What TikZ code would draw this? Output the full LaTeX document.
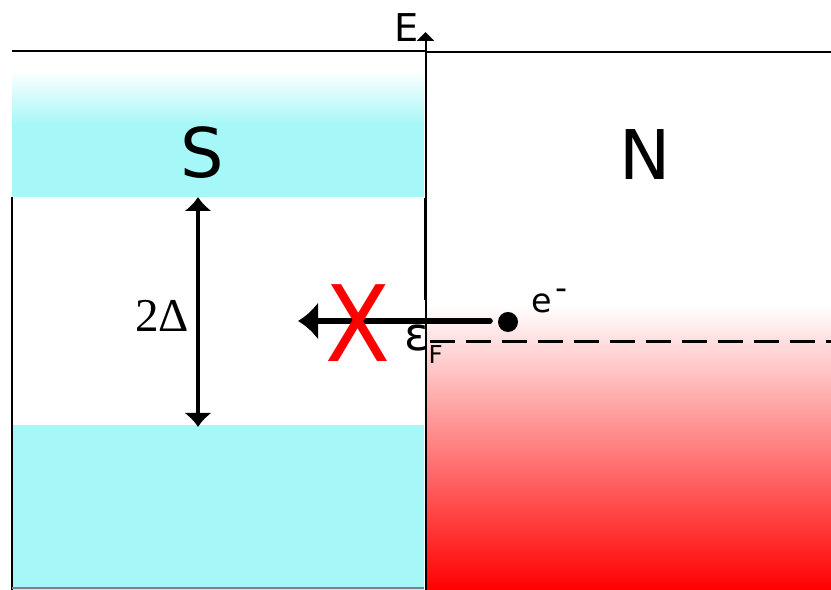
\documentclass[tikz,border=0pt]{standalone}
\usepackage{fontspec}
\setmainfont{DejaVu Sans}
\newfontfamily\timesfont{Liberation Serif}
\usetikzlibrary{arrows.meta}

\definecolor{scyan}{RGB}{166,247,247}

\begin{document}
\begin{tikzpicture}[line width=0.2mm]
\useasboundingbox (0,0) rectangle (8.31,5.9);

% superconductor bands
\fill[scyan] (0.12,0) rectangle (4.24,1.65);
\fill[scyan] (0.12,3.93) rectangle (4.24,4.65);
\shade[top color=white,bottom color=scyan] (0.12,4.65) rectangle (4.24,5.2);

% normal metal
\shade[top color=white,bottom color=red] (4.255,0) rectangle (8.31,2.85);

\draw (0.12,5.39) -- (4.255,5.39);
\draw[line width=0.8pt] (4.255,5.38) -- (8.31,5.38);
\draw (0.12,0) -- (0.12,3.93);
\draw[gray] (0.12,0.02) -- (4.24,0.02);

\coordinate (axbot) at (4.255,0);
\coordinate (axtop) at (4.255,5.58);
\draw[-{Triangle[length=0.09cm,width=0.17cm]}] (axbot) -- (axtop); %E
\draw[line width=0.9pt] (4.255,2.9) -- (4.255,3.92);

\draw[dash pattern=on 0.25cm off 0.11cm,line width=0.85pt] (4.3,2.48) -- (8.31,2.48); %fermi

\node[font=\fontsize{10.9}{13}\selectfont] (elabel) at (4.07,5.62) {E};
\node[font=\fontsize{19.5}{23}\selectfont] (slabel) at (2.02,4.37) {S};
\node[font=\fontsize{19.5}{23}\selectfont] (nlabel) at (6.45,4.35) {N};

% gap
\coordinate (gaptop) at (1.98,3.93);
\coordinate (gapbot) at (1.98,1.63);
\draw[line width=1.1pt,{Latex[length=0.14cm,width=0.28cm]}-{Latex[length=0.14cm,width=0.28cm]}] (gaptop) -- (gapbot);
\node[anchor=base west,inner sep=0pt] (gaplabel) at (1.34,2.58) {\timesfont\fontsize{13.4}{16}\selectfont 2Δ};

% electron
\node[circle,fill=black,inner sep=0pt,minimum size=0.2cm] (elec) at (5.08,2.68) {};
\node[anchor=base west,inner sep=0pt,font=\fontsize{9.5}{11}\selectfont] (eminus) at (5.30,2.77) {e\hspace{1pt}\raisebox{3.7pt}{-}};
\coordinate (blockstart) at (4.9,2.69);
\coordinate (blockend) at (2.98,2.69);
\draw[line width=1.6pt,line cap=round,-{Latex[length=0.2cm,width=0.38cm]}] (blockstart) -- (blockend);
\node[text=red,font=\fontsize{30}{36}\selectfont] (cross) at (3.58,2.67) {\scalebox{0.9}[1]{X}};

\node[anchor=base west,inner sep=0pt,font=\fontsize{13}{15}\selectfont] (fermi) at (4.03,2.39) {ε\raisebox{-3.7pt}{\fontsize{7}{8}\selectfont F}};
\end{tikzpicture}
\end{document}
